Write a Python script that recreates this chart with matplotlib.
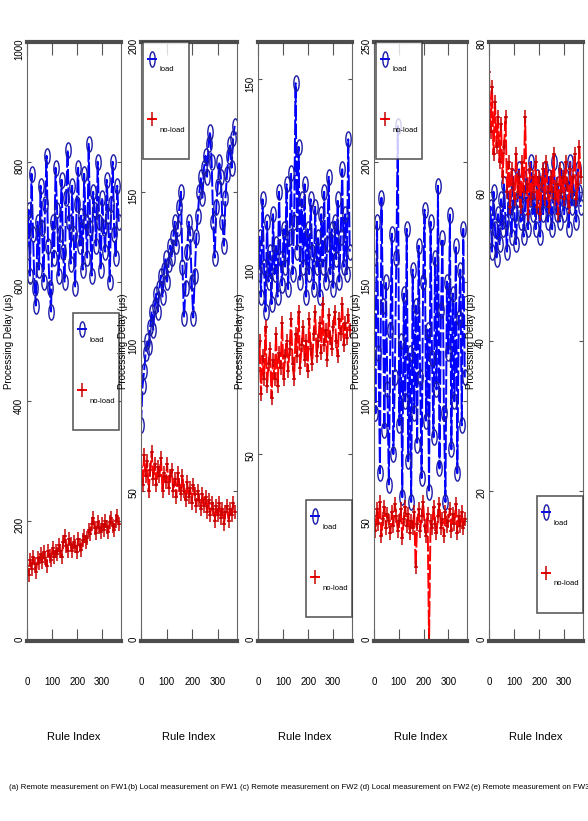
import matplotlib
matplotlib.use('Agg')
import matplotlib.pyplot as plt
from matplotlib.path import Path
from matplotlib.transforms import Affine2D, blended_transform_factory

plt.rcParams['font.family'] = ['Liberation Sans', 'DejaVu Sans']

# rule index of the plotted samples (every 6th rule)
rule_idx = list(range(0, 367, 6))

# (a) remote measurement on FW1
a_load = [650, 720, 610, 780, 680, 590, 560, 700, 620, 760,
          690, 600, 730, 810, 660, 590, 550, 700, 640, 790,
          720, 610, 680, 770, 650, 600, 740, 820, 700, 630,
          760, 680, 590, 730, 790, 660, 710, 620, 780, 700,
          640, 830, 690, 610, 750, 720, 660, 800, 700, 620,
          740, 690, 650, 770, 710, 600, 730, 800, 680, 640,
          760, 700]
a_noload = [125, 110, 135, 120, 140, 128, 115, 138, 130, 145,
            132, 148, 138, 125, 150, 142, 135, 155, 140, 150,
            145, 160, 150, 140, 165, 175, 158, 150, 170, 162,
            150, 165, 158, 148, 170, 160, 152, 168, 175, 165,
            172, 185, 178, 195, 205, 188, 180, 198, 190, 182,
            195, 185, 200, 190, 182, 198, 205, 192, 186, 200,
            208, 195]

# (b) local measurement on FW1
b_load = [72, 85, 90, 96, 100, 98, 105, 110, 104, 112,
          116, 110, 118, 122, 115, 124, 128, 120, 126, 132,
          128, 135, 140, 132, 138, 145, 150, 125, 108, 118,
          130, 140, 136, 120, 108, 122, 135, 142, 150, 155,
          148, 158, 162, 155, 166, 170, 160, 140, 128, 145,
          152, 160, 155, 140, 132, 148, 156, 162, 166, 158,
          168, 172]
b_noload = [58, 52, 62, 55, 60, 50, 57, 63, 54, 59,
            52, 58, 55, 61, 50, 56, 53, 59, 51, 55,
            57, 50, 54, 48, 56, 52, 49, 55, 50, 47,
            53, 48, 51, 46, 52, 49, 45, 50, 47, 44,
            49, 45, 48, 43, 47, 42, 46, 44, 40, 45,
            42, 46, 41, 44, 39, 43, 45, 40, 44, 42,
            46, 43]

# (c) remote measurement on FW2
c_load = [98, 108, 92, 118, 100, 88, 112, 96, 104, 90,
          114, 98, 106, 92, 120, 102, 95, 110, 100, 122,
          94, 108, 125, 98, 112, 149, 104, 132, 96, 118,
          100, 122, 92, 110, 98, 118, 104, 94, 116, 100,
          108, 92, 114, 100, 120, 96, 106, 124, 98, 110,
          94, 112, 102, 118, 96, 108, 126, 100, 114, 98,
          134, 104]
c_noload = [72, 80, 66, 76, 70, 84, 68, 74, 78, 65,
            75, 70, 82, 68, 77, 73, 85, 70, 76, 80,
            72, 78, 86, 74, 70, 82, 76, 88, 73, 79,
            84, 75, 80, 72, 86, 78, 74, 82, 88, 76,
            80, 85, 77, 90, 79, 83, 75, 87, 81, 78,
            84, 88, 80, 76, 86, 82, 90, 79, 85, 81,
            87, 83]

# (d) local measurement on FW2
d_load = [160, 95, 175, 120, 70, 185, 140, 88, 150, 105,
          65, 130, 170, 78, 110, 160, 215, 90, 125, 60,
          145, 100, 172, 75, 120, 58, 155, 95, 140, 82,
          165, 110, 68, 150, 180, 92, 130, 62, 175, 118,
          85, 160, 105, 190, 72, 138, 168, 95, 58, 150,
          120, 178, 80, 145, 100, 165, 70, 135, 155, 90,
          172, 110]
d_noload = [52, 46, 55, 49, 58, 44, 51, 56, 47, 53,
            50, 45, 54, 48, 57, 52, 46, 50, 55, 43,
            51, 56, 48, 53, 45, 50, 47, 54, 31, 49,
            55, 46, 52, 58, 48, 44, 53, 0, 50, 47,
            56, 49, 45, 52, 57, 47, 51, 44, 54, 48,
            50, 55, 46, 53, 49, 57, 45, 52, 48, 54,
            47, 51]

# (e) remote measurement on FW3
e_load = [54, 58, 52, 60, 55, 51, 57, 53, 59, 55,
          61, 56, 52, 60, 58, 54, 62, 57, 53, 59,
          63, 56, 60, 54, 58, 62, 55, 59, 64, 57,
          60, 55, 62, 58, 54, 61, 57, 63, 59, 56,
          62, 58, 55, 64, 60, 57, 61, 56, 63, 59,
          57, 62, 60, 55, 64, 58, 61, 59, 56, 63,
          60, 58]
e_noload = [76, 68, 74, 65, 72, 66, 70, 64, 69, 62,
            66, 70, 60, 64, 58, 63, 61, 59, 65, 60,
            62, 58, 64, 60, 70, 61, 57, 63, 59, 62,
            60, 64, 58, 62, 57, 61, 63, 59, 64, 60,
            58, 62, 60, 65, 59, 61, 57, 63, 60, 62,
            59, 64, 61, 58, 63, 60, 62, 65, 59, 61,
            66, 62]

loads = [a_load, b_load, c_load, d_load, e_load]
noloads = [a_noload, b_noload, c_noload, d_noload, e_noload]
captions = ['(a) Remote measurement on FW1', '(b) Local measurement on FW1',
            '(c) Remote measurement on FW2', '(d) Local measurement on FW2',
            '(e) Remote measurement on FW3']
ymax = [1000, 200, 160, 250, 80]
ytick_step = [200, 50, 50, 50, 20]
xticks = [0, 100, 200, 300]

# legend placement per panel (loc, anchor in axes coords)
leg_pos = [('upper right', (0.98, 0.548)), ('upper left', (0.02, 1.0)),
           ('lower right', (1.0, 0.04)), ('upper left', (0.02, 1.0)),
           ('lower right', (1.0, 0.047))]

W, H = 588, 821
lefts = [27, 141, 258, 374, 489]
widths = [94, 96, 94, 93, 94]
top, bottom = 42, 641

# squashed markers, as in the reference
oval = Path.unit_circle().transformed(Affine2D().scale(0.35, 1.0))
plus = Path([(-0.3, 0), (0.3, 0), (0, -1), (0, 1)],
            [Path.MOVETO, Path.LINETO, Path.MOVETO, Path.LINETO])

fig = plt.figure(figsize=(W / 100, H / 100), dpi=100)

for i in range(5):
    ax = fig.add_axes([lefts[i] / W, (H - bottom) / H, widths[i] / W, (bottom - top) / H])
    ax.plot(rule_idx, loads[i], color='#0000ff', ls='--', dashes=(8, 1.5), lw=1.4,
            marker=oval, ms=11, mfc='none', mec='#1a1aa8', mew=1.0, label='load')
    ax.plot(rule_idx, noloads[i], color='#ff0000', ls='--', dashes=(8, 1.5), lw=1.4,
            marker=plus, ms=10, mec='#c80000', mew=1.1, label='no-load')
    ax.set_xlim(0, 375)
    ax.set_ylim(0, ymax[i])
    ax.set_xticks(xticks)
    ax.set_yticks(list(range(0, ymax[i] + 1, ytick_step[i])))

    for s in ['top', 'bottom']:
        ax.spines[s].set_linewidth(3)
        ax.spines[s].set_color('#4d4d4d')
    for s in ['left', 'right']:
        ax.spines[s].set_linewidth(0.8)
        ax.spines[s].set_color('#666666')

    ax.tick_params(axis='x', direction='in', top=True, length=9, width=0.8,
                   color='#555555', labelsize=7, pad=26)
    ax.tick_params(axis='y', direction='in', right=True, length=3, width=0.8,
                   color='#555555', labelsize=7, labelrotation=90, pad=2)
    ax.set_ylabel('Processing Delay (μs)', fontsize=7, labelpad=0.5)

    tr = blended_transform_factory(ax.transAxes, fig.transFigure)
    ax.text(0.5, 1 - 737 / H, 'Rule Index', transform=tr, ha='center', va='center', fontsize=8)
    ax.text(0.44, 1 - 787 / H, captions[i], transform=tr, ha='center', va='center', fontsize=5.6)

    loc, anchor = leg_pos[i]
    leg = ax.legend(loc=loc, bbox_to_anchor=anchor, borderaxespad=0, fontsize=5.5,
                    fancybox=False, handlelength=1.4, handletextpad=0.3,
                    handleheight=9.5, labelspacing=1.5, borderpad=0.5)
    leg.get_frame().set_edgecolor('#333333')
    leg.get_frame().set_linewidth(1.2)

fig.savefig('out.png', dpi=100)
